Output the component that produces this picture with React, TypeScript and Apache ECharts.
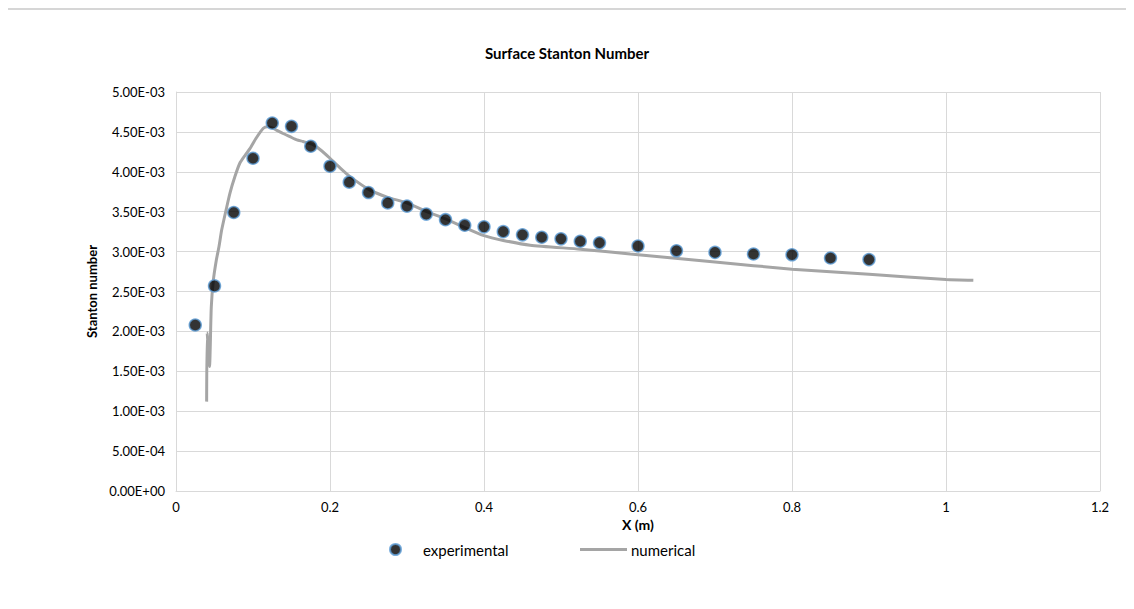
import React, { useEffect, useRef } from "react";
import * as echarts from "echarts";

const expX = [0.025, 0.05, 0.075, 0.1, 0.125, 0.15, 0.175, 0.2, 0.225, 0.25, 0.275, 0.3, 0.325, 0.35, 0.375, 0.4, 0.425, 0.45, 0.475, 0.5, 0.525, 0.55, 0.6, 0.65, 0.7, 0.75, 0.8, 0.85, 0.9];
const expY = [2.08e-3, 2.57e-3, 3.49e-3, 4.17e-3, 4.61e-3, 4.57e-3, 4.32e-3, 4.07e-3, 3.87e-3, 3.74e-3, 3.61e-3, 3.57e-3, 3.47e-3, 3.40e-3, 3.33e-3, 3.31e-3, 3.25e-3, 3.21e-3, 3.18e-3, 3.16e-3, 3.13e-3, 3.11e-3, 3.07e-3, 3.01e-3, 2.99e-3, 2.97e-3, 2.96e-3, 2.92e-3, 2.90e-3];

const numX = [0.0398, 0.0405, 0.0435, 0.0458, 0.0485, 0.0525, 0.0558, 0.0593, 0.065, 0.070, 0.0765, 0.083, 0.090, 0.096, 0.104, 0.1134, 0.119, 0.125, 0.131, 0.139, 0.148, 0.157, 0.165, 0.178, 0.187, 0.2, 0.213, 0.226, 0.252, 0.275, 0.2996, 0.3256, 0.35, 0.373, 0.4, 0.425, 0.46, 0.525, 0.59, 0.7, 0.8, 0.9, 1.0, 1.0355];
const numY = [1.12e-3, 1.98e-3, 1.56e-3, 2.30e-3, 2.64e-3, 2.90e-3, 3.06e-3, 3.27e-3, 3.52e-3, 3.73e-3, 3.94e-3, 4.11e-3, 4.21e-3, 4.29e-3, 4.42e-3, 4.545e-3, 4.565e-3, 4.55e-3, 4.52e-3, 4.48e-3, 4.44e-3, 4.40e-3, 4.38e-3, 4.34e-3, 4.28e-3, 4.17e-3, 4.05e-3, 3.94e-3, 3.77e-3, 3.68e-3, 3.61e-3, 3.50e-3, 3.41e-3, 3.31e-3, 3.20e-3, 3.14e-3, 3.08e-3, 3.03e-3, 2.97e-3, 2.87e-3, 2.78e-3, 2.715e-3, 2.65e-3, 2.64e-3];

const fmtY = (v: number) => {
  if (v === 0) return "0.00E+00";
  const s = v.toExponential(2);
  const [m, e] = s.split("e");
  const sign = e[0] === "-" ? "-" : "+";
  const d = e.replace(/[+-]/, "").padStart(2, "0");
  return `${m}E${sign}${d}`;
};

const FONT = "Lato, 'Open Sans', sans-serif";

export default function App() {
  const ref = useRef<HTMLDivElement>(null);
  useEffect(() => {
    if (!ref.current) return;
    const chart = echarts.init(ref.current, undefined, { renderer: "svg" });
    chart.setOption({
      animation: false,
      backgroundColor: "#fff",
      textStyle: { fontFamily: FONT },
      title: {
        text: "Surface Stanton Number",
        left: "center",
        top: 40,
        textStyle: { fontFamily: FONT, fontSize: 15, fontWeight: "bold", color: "#000" },
      },
      graphic: [
        {
          type: "polyline",
          shape: { points: [[4, 609], [4, 9], [1130, 9], [1130, 609]] },
          style: { fill: "none", stroke: "#d6d6d6", lineWidth: 2 },
          silent: true,
          z: 10,
        },
      ],
      grid: { left: 176, right: 34, top: 92, bottom: 118 },
      xAxis: {
        type: "value",
        min: 0,
        max: 1.2,
        interval: 0.2,
        name: "X (m)",
        nameLocation: "middle",
        nameGap: 25,
        nameTextStyle: { fontFamily: FONT, fontSize: 14, fontWeight: "bold", color: "#000" },
        axisLine: { show: true, lineStyle: { color: "#d9d9d9", width: 1 } },
        axisTick: { show: false },
        axisLabel: {
          fontFamily: FONT,
          fontSize: 13,
          color: "#000",
          margin: 9,
          formatter: (v: number) => String(Math.round(v * 10) / 10),
        },
        splitLine: { show: true, lineStyle: { color: "#d9d9d9", width: 1 } },
      },
      yAxis: {
        type: "value",
        min: 0,
        max: 0.005,
        interval: 0.0005,
        name: "Stanton number",
        nameLocation: "middle",
        nameGap: 54,
        nameTextStyle: { fontFamily: FONT, fontSize: 13, fontWeight: "bold", color: "#000" },
        axisLine: { show: true, lineStyle: { color: "#d9d9d9", width: 1 } },
        axisTick: { show: false },
        axisLabel: { fontFamily: FONT, fontSize: 13, color: "#000", margin: 11, formatter: fmtY },
        splitLine: { show: true, lineStyle: { color: "#d9d9d9", width: 1 } },
      },
      legend: [
        {
          data: [{ name: "experimental", icon: "circle" }],
          left: 384,
          top: 537,
          itemWidth: 11,
          itemHeight: 11,
          textStyle: { fontFamily: FONT, fontSize: 15, color: "#000", padding: [0, 0, 0, 17] },
        },
        {
          data: [{ name: "numerical", icon: "rect" }],
          left: 575,
          top: 537,
          itemWidth: 47,
          itemHeight: 3,
          textStyle: { fontFamily: FONT, fontSize: 15, color: "#000", padding: [0, 0, 0, -1] },
        },
      ],
      series: [
        {
          name: "numerical",
          type: "line",
          data: numX.map((x, i) => [x, numY[i]]),
          symbol: "none",
          smooth: 0.2,
          lineStyle: { color: "#a5a5a5", width: 3 },
          itemStyle: { color: "#a5a5a5" },
          z: 2,
        },
        {
          name: "experimental",
          type: "scatter",
          data: expX.map((x, i) => [x, expY[i]]),
          symbol: "circle",
          symbolSize: 12,
          itemStyle: { color: "#000", borderColor: "#5b9bd5", borderWidth: 1.5 },
          z: 3,
        },
      ],
    });
    return () => chart.dispose();
  }, []);
  return <div ref={ref} style={{ width: 1134, height: 609, margin: -8 }} />;
}
